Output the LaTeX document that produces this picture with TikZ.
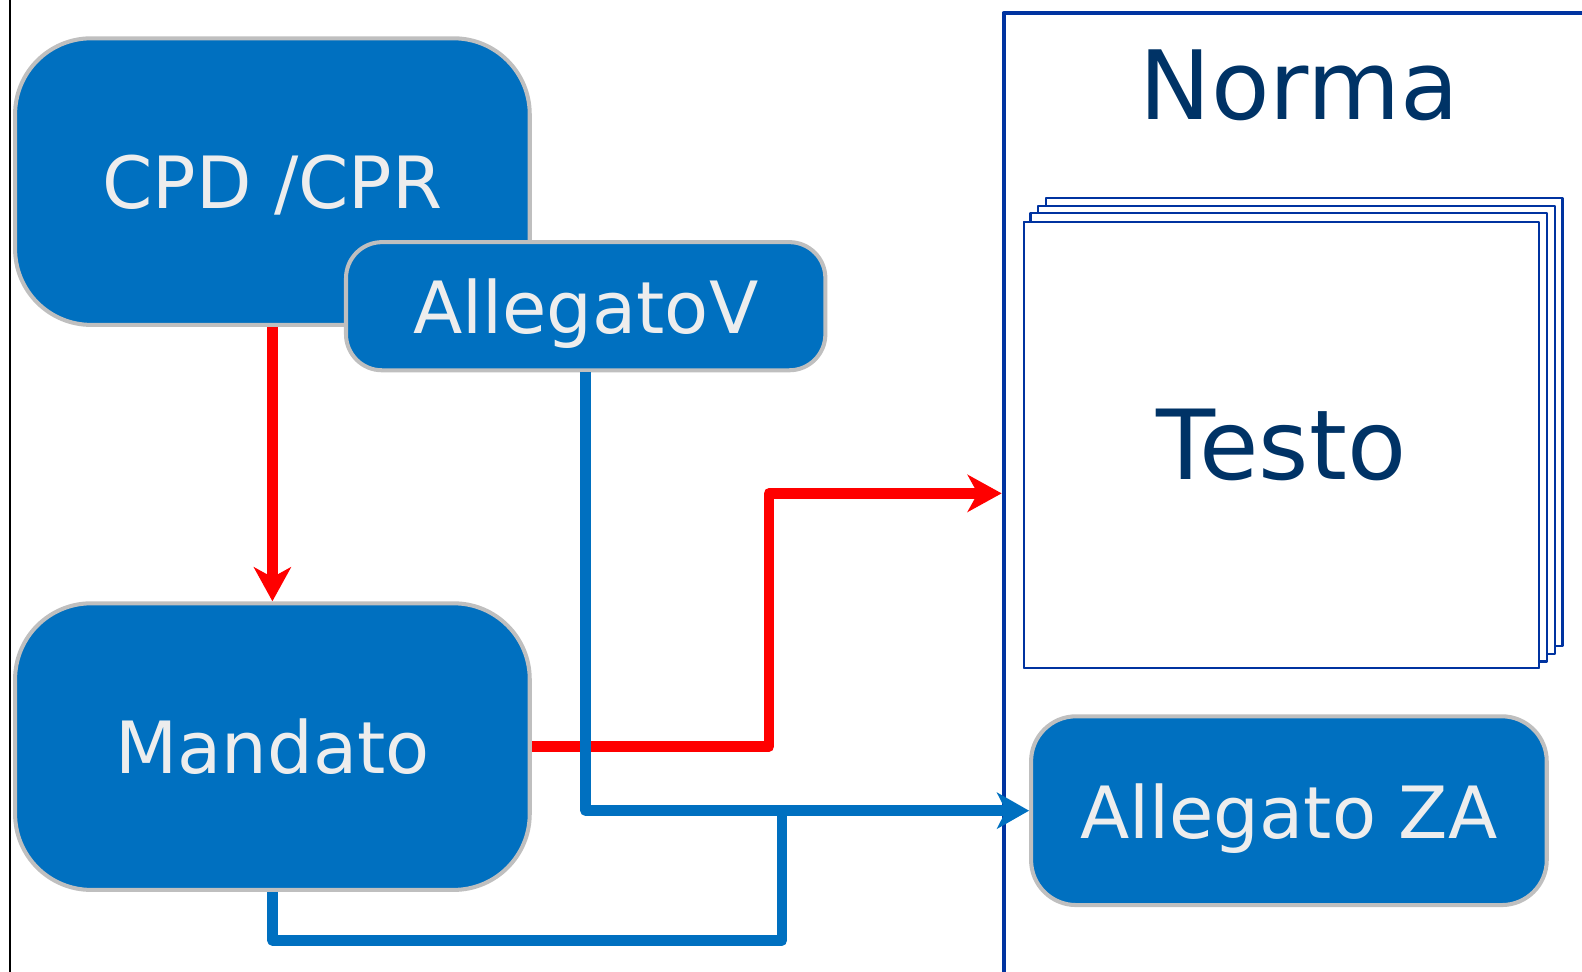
\documentclass[tikz,border=0pt]{standalone}
\usepackage{fontspec}
\setmainfont{DejaVu Sans}
\usepackage{tikz}
\usetikzlibrary{arrows.meta,calc}
\usepackage{xcolor}
\definecolor{boxblue}{HTML}{0070C0}
\definecolor{boxgray}{HTML}{BFBFBF}
\definecolor{boxtext}{HTML}{EDEDED}
\definecolor{normablue}{HTML}{0033A0}
\definecolor{normatext}{HTML}{003366}

\begin{document}
\begin{tikzpicture}[x=0.010089cm, y=-0.010089cm,
        line join=round,
        box/.style={draw=boxgray, line width=1.15pt, fill=boxblue, text=boxtext,
                rounded corners=#1, inner sep=0pt, text depth=0pt,
                font=\fontsize{20.5}{23}\selectfont},
        page/.style={draw=normablue, line width=0.6pt, fill=white},
        redarrow/.style={red, line width=3pt,
                -{Stealth[length=0.34cm, width=0.37cm, inset=0.1cm]}},
        blueline/.style={boxblue, line width=3pt},
        bluearrow/.style={blueline,
                -{Stealth[length=0.32cm, width=0.36cm, inset=0.09cm]}}]
        \def\pageStep{7.5}
        \useasboundingbox (0,0) rectangle (1568,963);

        % left rule and Norma frame
        \draw[black, line width=0.6pt] (10,0) -- (10,963);
        \node[draw=normablue, line width=1.2pt, minimum width=6.104cm,
                minimum height=9.606cm, inner sep=0pt] (norma) at (1297.5,489) {};
        \node[text=normatext, font=\fontsize{27.2}{30}\selectfont] (normalabel) at (1288,85) {Norma};

        % stack of pages
        \node[page, minimum width=5.145cm, minimum height=4.459cm] (testo) at (1270,441) {};
        \foreach \i in {3,2,1}{
        \draw[page] ([shift={(\pageStep*\i,-\pageStep*\i)}]testo.south west)
                rectangle ([shift={(\pageStep*\i,-\pageStep*\i)}]testo.north east);
        }
        \node[page, minimum width=5.145cm, minimum height=4.459cm, text=normatext,
                font=\fontsize{27.5}{30}\selectfont] (testo) at (1270,441) {Testo};

        % MAIN BOXES
        \node[box=0.76cm, minimum width=5.145cm, minimum height=2.865cm] (cpd) at (270,180) {CPD /CPR};
        \node[box=0.36cm, minimum width=4.792cm, minimum height=1.281cm] (allV) at (580.5,303.5) {AllegatoV};
        \node[box=0.76cm, minimum width=5.145cm, minimum height=2.865cm] (mandato) at (270,740) {Mandato};
        \node[box=0.45cm, minimum width=5.155cm, minimum height=1.887cm] (allZA) at (1277.5,803.5) {Allegato ZA};

        % connectors
        \coordinate (redknee) at (762,489);
        \coordinate (bluejoin) at (775,803.5);
        \draw[redarrow] (cpd.south) -- (mandato.north);
        \draw[redarrow] (mandato.east) -| (redknee) -- (redknee -| norma.west);
        \draw[blueline] (mandato.south) -- ++(0,48) -| (bluejoin);
        \draw[bluearrow] (allV.south) -- (allV.south |- allZA.west) -- (allZA.west);

\end{tikzpicture}
\end{document}
